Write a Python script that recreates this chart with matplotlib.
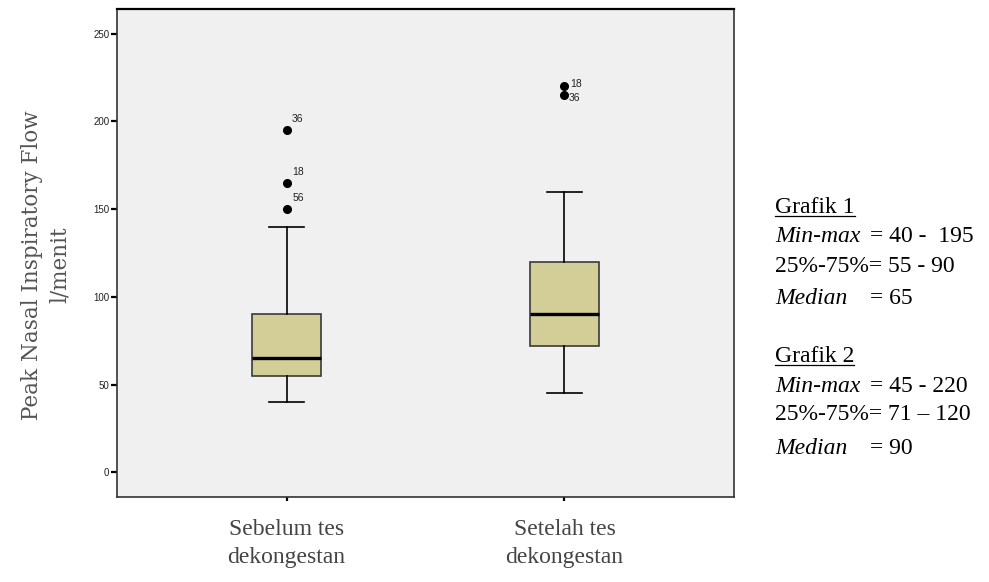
import matplotlib
matplotlib.use("Agg")
import matplotlib.pyplot as plt
from matplotlib.lines import Line2D

# data
groups = ["Sebelum tes\ndekongestan", "Setelah tes\ndekongestan"]
whislo = [40, 45]
q1 = [55, 72]
med = [65, 90]
q3 = [90, 120]
whishi = [140, 160]
fliers = [[195, 165, 150], [220, 215]]
flier_ids = [["36", "18", "56"], ["18", "36"]]
yticks = [0, 50, 100, 150, 200, 250]

summary = [
    ("Grafik 1", "40 -  195", "55 - 90", "65"),
    ("Grafik 2", "45 - 220", "71 \u2013 120", "90"),
]

fig = plt.figure(figsize=(9.89, 5.82), dpi=100)
ax = fig.add_axes([117/989, 1-497/582, (734-117)/989, (497-9)/582])
ax.set_facecolor("#f0f0f0")

stats = []
for i in range(len(groups)):
    stats.append(dict(whislo=whislo[i], q1=q1[i], med=med[i], q3=q3[i],
                      whishi=whishi[i], fliers=fliers[i], label=groups[i]))

ax.bxp(stats, positions=[1, 2], widths=0.25, capwidths=0.126, patch_artist=True,
       boxprops=dict(facecolor="#d3cd98", edgecolor="#3a3a3a", linewidth=1.2),
       medianprops=dict(color="black", linewidth=2.4),
       whiskerprops=dict(color="black", linewidth=1.2),
       capprops=dict(color="black", linewidth=1.2),
       flierprops=dict(marker="o", markerfacecolor="black", markeredgecolor="black",
                       markersize=5.5))

# outlier ids, SPSS style
offs = [[(4, 8), (4, 8), (4, 8)],
        [(4.3, 1.5), (3, -2)]]
for i in range(len(groups)):
    for v, lab, (dx, dy) in zip(fliers[i], flier_ids[i], offs[i]):
        ax.annotate(lab, (i + 1, v), xytext=(dx, dy), textcoords="offset points",
                    fontsize=7.5, family="Liberation Sans", color="#222222",
                    ha="left", va="center")

ax.set_xlim(0.39, 2.61)
ax.set_ylim(-14, 264)
ax.set_yticks(yticks)
ax.set_yticklabels([str(t) for t in yticks], fontsize=7, family="Liberation Sans",
                   color="#222222")
ax.tick_params(axis="y", length=4.5, width=1.6, direction="out", pad=1)
ax.tick_params(axis="x", length=3, width=1.6, direction="out", pad=13)
ax.set_xticks([1, 2])
ax.set_xticklabels(groups, fontsize=17, family="Liberation Serif", color="#444444",
                   linespacing=1.45)

for s in ax.spines.values():
    s.set_color("#333333")
    s.set_linewidth(1.2)
ax.spines["top"].set_color("black")
ax.spines["top"].set_linewidth(1.6)

fig.text(46/989, 1-265/582, "Peak Nasal Inspiratory Flow\nl/menit", fontsize=15.5,
         family="DejaVu Serif", color="#555555", rotation=90, rotation_mode="anchor",
         ha="center", va="center", linespacing=1.3)

# summary text on the right
x0 = 775
xeq = 870
rows_y = [[207, 237, 267, 298], [356, 386, 415, 448]]
fs = 17
fig.canvas.draw()
for (title, mm, iq, md), ys in zip(summary, rows_y):
    t = fig.text(x0/989, 1-ys[0]/582, title, fontsize=fs, family="Liberation Serif",
                 va="center", ha="left")
    bb = t.get_window_extent(fig.canvas.get_renderer())
    uy = (bb.y0 + 2) / 582
    fig.add_artist(Line2D([bb.x0/989, bb.x1/989], [uy, uy], color="black", linewidth=0.9))
    fig.text(x0/989, 1-ys[1]/582, "Min-max", fontsize=fs, family="Liberation Serif",
             style="italic", va="center", ha="left")
    fig.text(xeq/989, 1-ys[1]/582, "= " + mm, fontsize=fs, family="Liberation Serif",
             va="center", ha="left")
    fig.text(x0/989, 1-ys[2]/582, "25%-75%= " + iq, fontsize=fs, family="Liberation Serif",
             va="center", ha="left")
    fig.text(x0/989, 1-ys[3]/582, "Median", fontsize=fs, family="Liberation Serif",
             style="italic", va="center", ha="left")
    fig.text(xeq/989, 1-ys[3]/582, "= " + md, fontsize=fs, family="Liberation Serif",
             va="center", ha="left")

fig.savefig("out.png", dpi=100)
